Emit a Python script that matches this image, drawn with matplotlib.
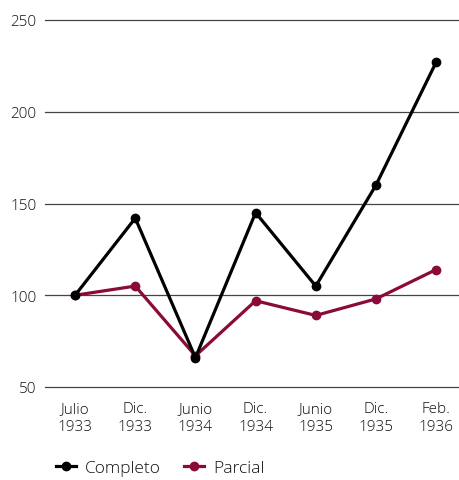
import matplotlib
matplotlib.use("Agg")
import matplotlib.pyplot as plt
from matplotlib.lines import Line2D

categories = ["Julio\n1933", "Dic.\n1933", "Junio\n1934", "Dic.\n1934", "Junio\n1935", "Dic.\n1935", "Feb.\n1936"]
completo = [100, 142, 66, 145, 105, 160, 227]
parcial = [100, 105, 67, 97, 89, 98, 114]
yticks = [50, 100, 150, 200, 250]

plt.rcParams['font.family'] = ['Open Sans', 'DejaVu Sans']
plt.rcParams['font.weight'] = 300

fig = plt.figure(figsize=(4.59, 4.81), dpi=100)
ax = fig.add_axes([45/459, (481-388)/481, 1 - 45/459, (388-21)/481])

x = list(range(len(categories)))
c_par = "#8a0a3a"
c_com = "#000000"
ax.plot(x, parcial, color=c_par, lw=2.3, marker="o", ms=6, zorder=3)
ax.plot(x, completo, color=c_com, lw=2.3, marker="o", ms=6, zorder=4)

ax.set_ylim(50, 250)
ax.set_xlim(-0.5, 6.38)
ax.set_yticks(yticks)
ax.set_yticklabels([str(v) for v in yticks])
ax.set_xticks(x)
ax.set_xticklabels(categories, linespacing=1.25)
for yv in yticks:
    ax.axhline(yv, color="#444444", lw=0.9, zorder=1, clip_on=False)
for s in ax.spines.values():
    s.set_visible(False)
ax.tick_params(axis="both", length=0, labelsize=11, colors="#111111")
ax.tick_params(axis="y", pad=6)
ax.tick_params(axis="x", pad=10)

handles = [Line2D([0], [0], color=c_com, lw=2.3, marker="o", ms=6),
           Line2D([0], [0], color=c_par, lw=2.3, marker="o", ms=6)]
leg = fig.legend(handles, ["Completo", "Parcial"], loc="lower left",
                 bbox_to_anchor=(40/459, -0.025), ncol=2, frameon=False,
                 fontsize=12.5, handlelength=1.2, handletextpad=0.5, columnspacing=1.3)
for t in leg.get_texts():
    t.set_color("#111111")

fig.savefig("out.png", dpi=100)
